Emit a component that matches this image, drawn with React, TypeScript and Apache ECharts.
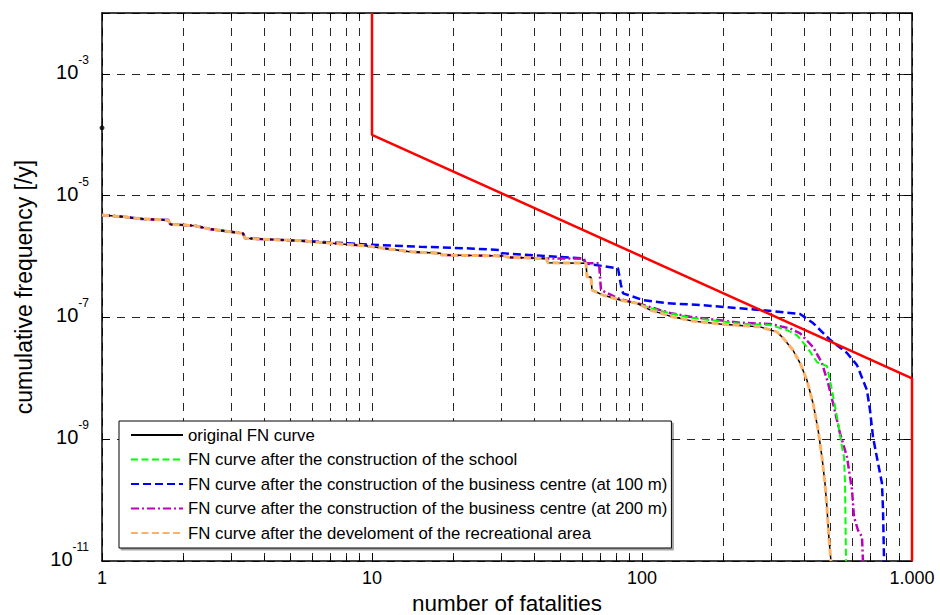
import React, { useEffect, useRef } from "react";
import * as echarts from "echarts";

// ---- data (N = number of fatalities, F = cumulative frequency [/y]) ----
const legendNames = [
  "original FN curve",
  "FN curve after the construction of the school",
  "FN curve after the construction of the business centre (at 100 m)",
  "FN curve after the construction of the business centre (at 200 m)",
  "FN curve after the develoment of the recreational area",
];

const sharedHead: number[][] = [
  [1, 4.8e-6], [1.2, 4.5e-6], [1.42, 4.13e-6], [1.76, 3.97e-6], [1.79, 3.38e-6],
  [2.21, 3.21e-6], [2.51, 2.83e-6], [3.33, 2.4e-6], [3.39, 1.99e-6], [5.41, 1.82e-6],
];

const commonMid: number[][] = [
  [9.58, 1.49e-6], [13.8, 1.2e-6], [17.9, 1.13e-6], [18.2, 1.06e-6], [31.3, 1.02e-6],
  [31.9, 9.7e-7], [44.1, 9.3e-7],
];

const originalTail: number[][] = [
  [44.9, 7.9e-7], [62.0, 7.8e-7], [62.6, 4.6e-7], [64.7, 4.6e-7], [65.3, 2.82e-7],
  [71.7, 2.33e-7], [82.9, 1.93e-7], [95.8, 1.71e-7], [107, 1.33e-7], [127, 1.05e-7],
  [154.5, 8.7e-8], [194.5, 7.8e-8], [230.7, 7.4e-8], [273.5, 7.0e-8], [316, 5.8e-8],
  [333, 4.6e-8], [362, 2.92e-8], [385, 1.78e-8], [408, 9.4e-9], [430, 3.9e-9],
  [449, 1.42e-9], [464, 5.1e-10], [476, 1.9e-10], [484, 7.7e-11], [493, 2.2e-11],
  [501, 1e-11],
];

const schoolTail: number[][] = [
  [44.9, 7.9e-7], [62.0, 7.8e-7], [62.6, 4.6e-7], [64.7, 4.6e-7], [65.3, 2.82e-7],
  [71.7, 2.33e-7], [82.9, 1.93e-7], [95.8, 1.71e-7], [107, 1.43e-7], [127, 1.17e-7],
  [150.6, 9.95e-8], [230.7, 7.9e-8], [297.9, 7.5e-8], [344.4, 6.2e-8], [375, 5.1e-8],
  [408, 3.27e-8], [444.7, 1.85e-8], [484, 1.59e-8], [505.5, 6.4e-9], [527.6, 2.3e-9],
  [550.6, 7.4e-10], [560, 5.1e-10], [564.9, 1.9e-10], [569.7, 1e-11],
];

const business100Tail: number[][] = [
  [9.58, 1.58e-6], [15.06, 1.45e-6], [23.07, 1.36e-6], [29.8, 1.28e-6], [30.3, 1.13e-6],
  [48.4, 9.9e-7], [60.5, 9.3e-7], [62.0, 7.7e-7], [81.5, 6.4e-7], [83.6, 3.4e-7],
  [85.1, 2.49e-7], [100.9, 1.93e-7], [123.7, 1.71e-7], [164, 1.6e-7], [230.7, 1.41e-7],
  [305.6, 1.27e-7], [385, 1.14e-7], [430, 8.1e-8], [497, 4.3e-8], [574.5, 2.6e-8],
  [625.6, 1.65e-8], [681, 6.4e-9], [699, 3.0e-9], [717, 1.09e-9], [748, 4.1e-10],
  [774, 1.9e-10], [781, 6.9e-11], [788, 1e-11],
];

const business200Tail: number[][] = [
  [61.0, 9.3e-7], [61.5, 7.8e-7], [69.3, 7.8e-7], [70.5, 2.82e-7], [82.9, 2.0e-7],
  [98.3, 1.66e-7], [127, 1.18e-7], [150.6, 1.03e-7], [230.7, 8.2e-8], [297.9, 7.8e-8],
  [353.3, 6.6e-8], [385, 5.5e-8], [430, 3.27e-8], [464, 1.78e-8], [488.7, 8.4e-9],
  [509.9, 3.9e-9], [541, 1.26e-9], [574.5, 5.1e-10], [599.5, 1.47e-10], [609.8, 5.3e-11],
  [631, 3.2e-11], [653, 2.5e-11], [658, 1e-11],
];

const criterionLine: number[][] = [
  [10, 1e-2], [10, 1e-4], [1000, 1e-8], [1000, 1e-11],
];

const originalStartPoint: number[][] = [[1, 1.3e-4]];

const xTickLabels: Record<number, string> = { 1: "1", 10: "10", 100: "100", 1000: "1.000" };
const yLabelExponents = [-11, -9, -7, -5, -3];

const FONT = "'Liberation Sans', Arial, sans-serif";

export default function App() {
  const ref = useRef<HTMLDivElement>(null);

  useEffect(() => {
    document.body.style.margin = "0";
    if (!ref.current) return;
    const chart = echarts.init(ref.current, undefined, { renderer: "svg" });

    const originalCurve = [...sharedHead, ...commonMid, ...originalTail];
    const schoolCurve = [...sharedHead, ...commonMid, ...schoolTail];
    const business100Curve = [...sharedHead, ...business100Tail];
    const business200Curve = [...sharedHead, ...commonMid, ...business200Tail];
    const recreationalCurve = [...sharedHead, ...commonMid, ...originalTail];

    const gridDash = { color: "#000", width: 1, type: [8, 7] as any, opacity: 0.85 };

    const xBase: any = {
      type: "log",
      logBase: 10,
      min: 1,
      max: 1000,
      gridIndex: 0,
      axisLine: { show: true, onZero: false, lineStyle: { color: "#000", width: 1.5 } },
      axisTick: { show: true, inside: true, length: 8, lineStyle: { color: "#000", width: 1 } },
      minorTick: { show: true, splitNumber: 9, length: 5, lineStyle: { color: "#000", width: 1 } },
    };

    const yBase: any = {
      type: "log",
      logBase: 10,
      min: 1e-11,
      max: 1e-2,
      interval: 2,
      gridIndex: 0,
      axisLine: { show: true, onZero: false, lineStyle: { color: "#000", width: 1.5 } },
      axisTick: { show: true, inside: true, length: 8, lineStyle: { color: "#000", width: 1 } },
    };

    const option: any = {
      animation: false,
      backgroundColor: "#fff",
      grid: {
        left: 102,
        top: 13,
        width: 810,
        height: 548,
        containLabel: false,
        outerBoundsMode: "none",
        show: false,
      },
      xAxis: [
        {
          ...xBase,
          position: "bottom",
          splitLine: { show: true, lineStyle: gridDash },
          minorSplitLine: { show: true, lineStyle: gridDash },
          axisLabel: {
            color: "#000",
            fontSize: 18,
            fontFamily: FONT,
            margin: 8,
            formatter: (v: number) => xTickLabels[Math.round(v)] ?? "",
          },
          name: "number of fatalities",
          nameLocation: "middle",
          nameGap: 26,
          nameTextStyle: { color: "#000", fontSize: 22.5, lineHeight: 24, fontFamily: FONT },
        },
        {
          ...xBase,
          position: "top",
          splitLine: { show: false },
          minorSplitLine: { show: false },
          axisLabel: { show: false },
        },
      ],
      yAxis: [
        {
          ...yBase,
          position: "left",
          splitLine: { show: true, lineStyle: gridDash },
          axisLabel: {
            margin: 13,
            padding: [0, 0, 6, 0],
            formatter: (v: number) => {
              const e = Math.round(Math.log10(v));
              return yLabelExponents.includes(e) ? `{b|10}{s|${e}}` : "";
            },
            rich: {
              b: { fontSize: 20, fontFamily: FONT, color: "#000", lineHeight: 22, verticalAlign: "bottom" },
              s: { fontSize: 12, fontFamily: FONT, color: "#000", lineHeight: 12, verticalAlign: "bottom", padding: [0, 0, 16, 0] },
            },
          },
          name: "cumulative frequency [/y]",
          nameLocation: "middle",
          nameGap: 67,
          nameTextStyle: { color: "#000", fontSize: 23, fontFamily: FONT },
        },
        {
          ...yBase,
          position: "right",
          splitLine: { show: false },
          axisLabel: { show: false },
        },
      ],
      legend: {
        data: legendNames,
        orient: "vertical",
        left: 119,
        top: 421,
        padding: [5, 4, 6, 11],
        itemWidth: 52,
        itemHeight: 18,
        itemGap: 6.5,
        backgroundColor: "#fff",
        borderColor: "#000",
        borderWidth: 1,
        borderRadius: 0,
        shadowColor: "rgba(0,0,0,0.35)",
        shadowOffsetX: 2,
        shadowOffsetY: 2,
        shadowBlur: 1,
        z: 10,
        selectedMode: false,
        itemStyle: { opacity: 0 },
        textStyle: { color: "#000", fontSize: 16.8, fontFamily: FONT, lineHeight: 18 },
      },
      series: [
        {
          name: legendNames[2],
          type: "line",
          data: business100Curve,
          symbol: "none",
          lineStyle: { color: "#0000FF", width: 2.5, type: [8, 4] },
          itemStyle: { color: "#0000FF" },
        },
        {
          name: legendNames[3],
          type: "line",
          data: business200Curve,
          symbol: "none",
          lineStyle: { color: "#BF00BF", width: 2.5, type: [8, 3, 2, 3] },
          itemStyle: { color: "#BF00BF" },
        },
        {
          name: legendNames[1],
          type: "line",
          data: schoolCurve,
          symbol: "none",
          lineStyle: { color: "#00FF00", width: 2, type: [7, 3.5] },
          itemStyle: { color: "#00FF00" },
        },
        {
          name: legendNames[0],
          type: "line",
          data: originalCurve,
          symbol: "none",
          lineStyle: { color: "#000000", width: 1.5, type: "solid" },
          itemStyle: { color: "#000000" },
        },
        {
          name: legendNames[4],
          type: "line",
          data: recreationalCurve,
          symbol: "none",
          lineStyle: { color: "#FFB266", width: 3, type: [7, 3.5] },
          itemStyle: { color: "#FFB266" },
        },
        {
          name: "criterion",
          type: "line",
          data: criterionLine,
          symbol: "none",
          lineStyle: { color: "#FF0000", width: 2.5 },
          itemStyle: { color: "#FF0000" },
        },
        {
          name: "start",
          type: "scatter",
          data: originalStartPoint,
          symbol: "circle",
          symbolSize: 5,
          itemStyle: { color: "#000" },
          clip: false,
        },
      ],
    };

    chart.setOption(option);
    return () => chart.dispose();
  }, []);

  return <div ref={ref} style={{ width: 940, height: 615 }} />;
}
